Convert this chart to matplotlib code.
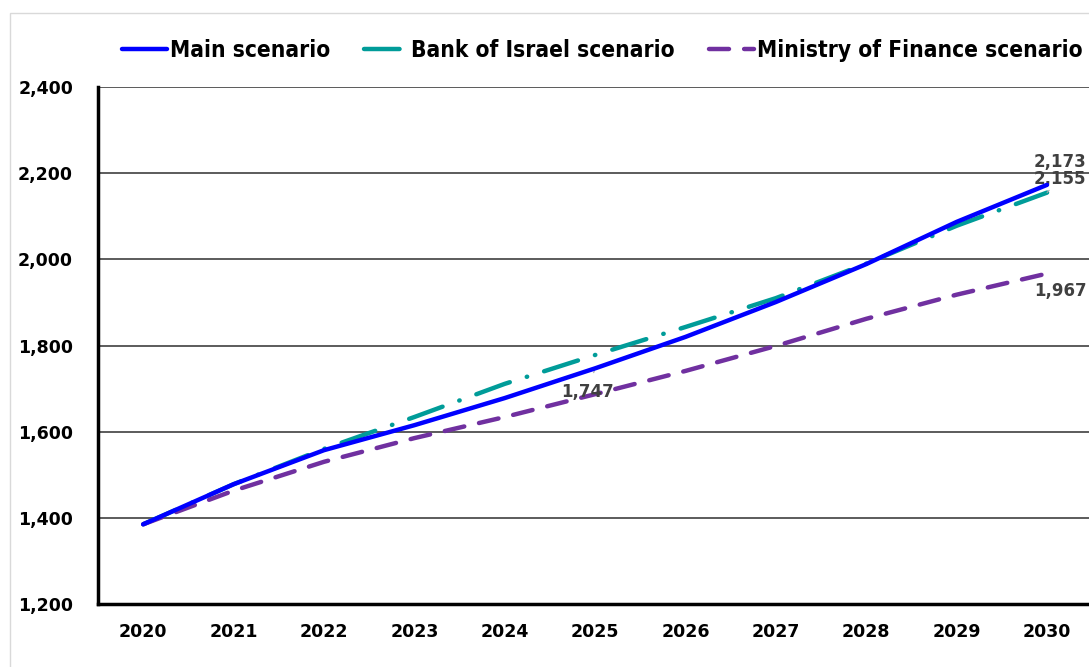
import numpy as np
import matplotlib
matplotlib.use('Agg')
import matplotlib.pyplot as plt
from matplotlib.ticker import FuncFormatter
from matplotlib.patches import Rectangle

# scenario paths, 2020-2030
years = np.arange(2020, 2031)
main_scenario = [1385, 1478, 1557, 1615, 1678, 1747, 1820, 1901, 1989, 2087, 2173]
boi_scenario = [1385, 1478, 1560, 1634, 1711, 1778, 1843, 1910, 1990, 2078, 2155]
mof_scenario = [1385, 1463, 1530, 1585, 1634, 1687, 1741, 1799, 1862, 1918, 1967]

series_names = ['Main scenario', 'Bank of Israel scenario', 'Ministry of Finance scenario']
series_colors = ['#0000FF', '#009C99', '#7030A0']

yticks = [1200, 1400, 1600, 1800, 2000, 2200, 2400]

fig = plt.figure(figsize=(10.89, 6.67), dpi=100)
fig.patches.append(Rectangle((0.009, -0.01), 1.1, 0.99, transform=fig.transFigure,
                             fill=False, edgecolor='#d9d9d9', linewidth=1))
ax = fig.add_axes([0.09, 0.0945, 0.913, 0.775])

x = np.arange(len(years))
l1, = ax.plot(x, main_scenario, color=series_colors[0], linewidth=3.2, solid_capstyle='round', zorder=4)
l2, = ax.plot(x, boi_scenario, color=series_colors[1], linewidth=3.2,
              dashes=(8, 4, 0.1, 4), dash_capstyle='round', zorder=3)
l3, = ax.plot(x, mof_scenario, color=series_colors[2], linewidth=3.2,
              dashes=(4.5, 3.4), dash_capstyle='round', zorder=3)

ax.set_xlim(-0.5, len(years) - 0.5)
ax.set_ylim(1200, 2400)
ax.set_yticks(yticks)
ax.set_xticks(x)
ax.set_xticklabels([str(y) for y in years])
ax.yaxis.set_major_formatter(FuncFormatter(lambda v, _: f'{v:,.0f}'))
ax.grid(axis='y', color='#404040', linewidth=1.2)
ax.set_axisbelow(True)
ax.tick_params(length=0, labelsize=12.5)
ax.tick_params(axis='x', pad=14)
ax.tick_params(axis='y', pad=18)
for lab in ax.get_xticklabels() + ax.get_yticklabels():
    lab.set_fontweight('bold')
for side in ['top', 'right']:
    ax.spines[side].set_visible(False)
ax.spines['left'].set_linewidth(2.5)
ax.spines['bottom'].set_linewidth(2.5)

# value labels
label_style = dict(textcoords='offset pixels', fontsize=12, fontweight='bold',
                   color='#404040', ha='center', va='center')
ax.annotate(f'{main_scenario[-1]:,}', (x[-1], main_scenario[-1]), xytext=(13, 23), **label_style)
ax.annotate(f'{boi_scenario[-1]:,}', (x[-1], boi_scenario[-1]), xytext=(13, 14),
            arrowprops=dict(arrowstyle='-', color='#a6a6a6', lw=0.8, shrinkA=4, shrinkB=0),
            **label_style)
ax.annotate(f'{mof_scenario[-1]:,}', (x[-1], mof_scenario[-1]), xytext=(13, -17), **label_style)
ax.annotate(f'{main_scenario[5]:,}', (x[5], main_scenario[5]), xytext=(-8, -24),
            arrowprops=dict(arrowstyle='-', color='#a6a6a6', lw=0.8, shrinkA=6, shrinkB=0),
            **label_style)

fig.legend([l1, l2, l3], series_names, loc='center', bbox_to_anchor=(0.553, 0.925),
           ncol=3, frameon=False, handlelength=2.0, handletextpad=0.1, columnspacing=1.5,
           prop={'family': 'DejaVu Sans', 'stretch': 'condensed', 'weight': 'bold', 'size': 16.3})

fig.savefig('out.png', dpi=100)
